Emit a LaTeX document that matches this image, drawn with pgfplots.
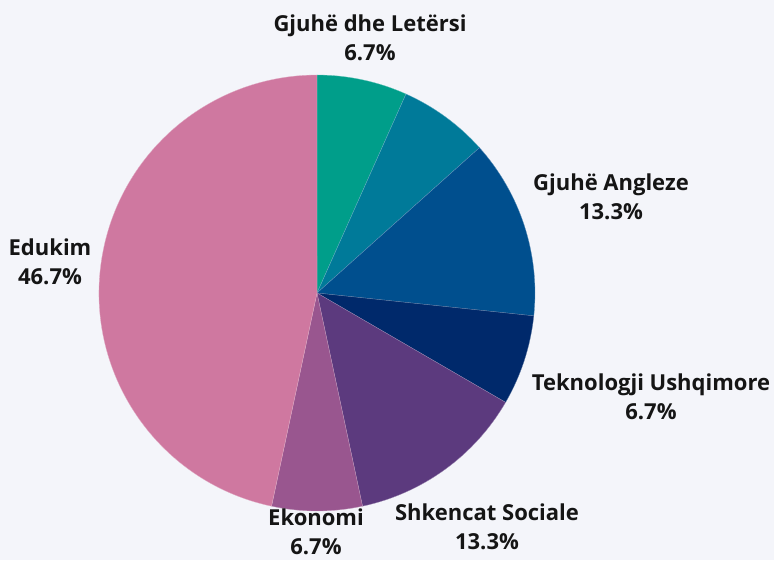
\documentclass[border=0pt]{standalone}
\usepackage{pgfplots}
\pgfplotsset{compat=1.18}
\usepackage{pgfplotstable}
\usepackage{fontspec}
\setmainfont{Open Sans}
\definecolor{bg}{HTML}{F4F5FA}
\definecolor{txt}{HTML}{151515}
\definecolor{c1}{HTML}{009E8A}
\definecolor{c2}{HTML}{007A99}
\definecolor{c3}{HTML}{004F8E}
\definecolor{c4}{HTML}{00296B}
\definecolor{c5}{HTML}{5C3A7E}
\definecolor{c6}{HTML}{99568F}
\definecolor{c7}{HTML}{CF78A0}
\tikzset{lbl/.style={font=\fontsize{22}{29}\selectfont\bfseries,text=txt,align=center,inner sep=0pt}}
\pgfplotstableread{
label value color
GjuheDheLetersi 6.7 c1
Unlabeled 6.7 c2
GjuheAngleze 13.3 c3
TeknologjiUshqimore 6.7 c4
ShkencatSociale 13.3 c5
Ekonomi 6.7 c6
Edukim 46.7 c7
}\piedata
\begin{document}
\begin{tikzpicture}
\begin{axis}[x=1pt,y=1pt,xmin=-317,xmax=457,ymin=-267,ymax=293,
  hide axis,clip=false,scale only axis]
\fill[bg] (axis cs:-317,-267) rectangle (axis cs:457,293);
\pgfplotstablegetrowsof{\piedata}
\pgfmathtruncatemacro{\N}{\pgfplotsretval-1}
\def\acc{90}
\pgfplotsforeachungrouped \i in {0,...,\N} {
  \pgfplotstablegetelem{\i}{value}\of\piedata \let\v\pgfplotsretval
  \pgfplotstablegetelem{\i}{color}\of\piedata \let\c\pgfplotsretval
  \pgfmathsetmacro{\aend}{\acc - \v/100.1*360}
  \pgfmathsetmacro{\sx}{218*cos(\acc)}
  \pgfmathsetmacro{\sy}{218*sin(\acc)}
  \edef\temp{\noexpand\fill[\c, draw=white!40!\c, line width=0.3pt] (axis cs:0,0) -- (axis cs:\sx,\sy) arc[start angle=\acc, end angle=\aend, radius=218pt] -- cycle;}
  \temp
  \let\acc\aend
}
\node[lbl] at (axis cs:53,255) {Gjuhë dhe Letërsi\\6.7\%};
\node[lbl] at (axis cs:294,96) {Gjuhë Angleze\\13.3\%};
\node[lbl] at (axis cs:334,-104) {Teknologji Ushqimore\\6.7\%};
\node[lbl] at (axis cs:170,-234) {Shkencat Sociale\\13.3\%};
\node[lbl] at (axis cs:-1,-239) {Ekonomi\\6.7\%};
\node[lbl] at (axis cs:-267,31) {Edukim\\46.7\%};
\end{axis}
\end{tikzpicture}
\end{document}
